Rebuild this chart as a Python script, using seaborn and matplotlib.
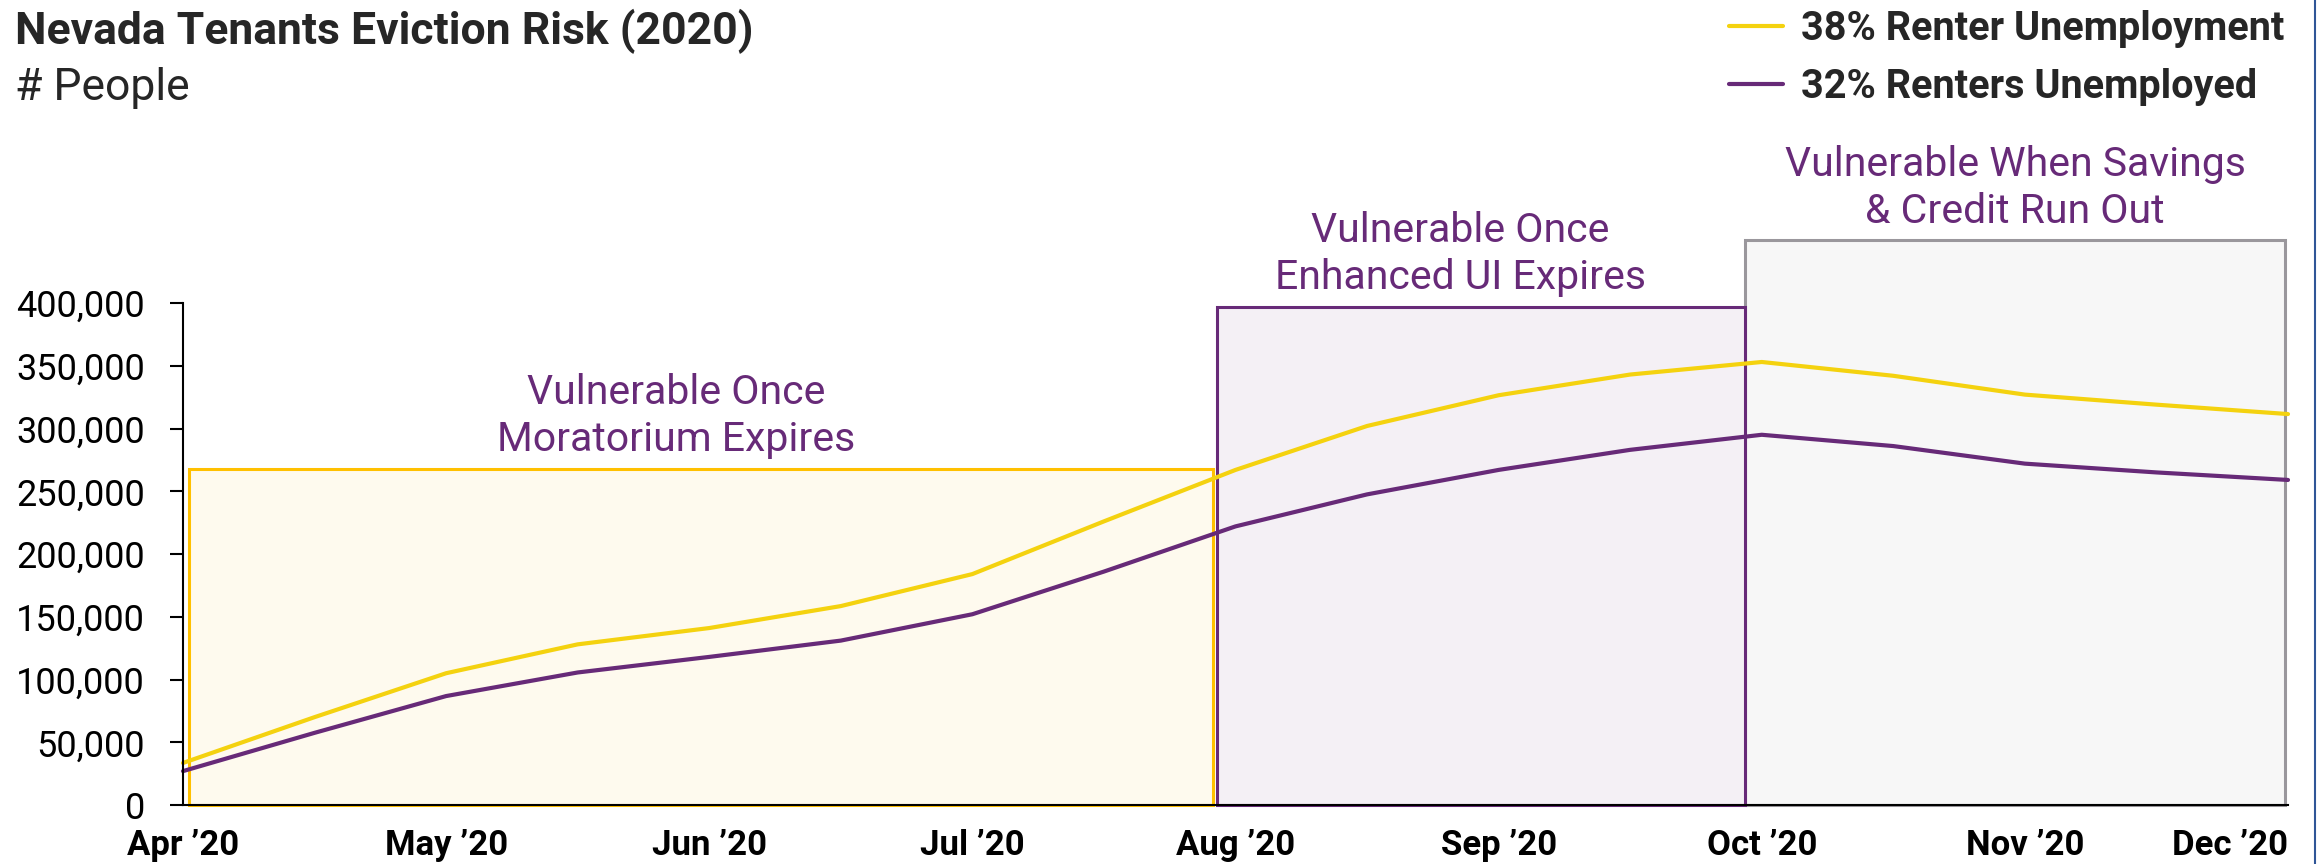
import numpy as np
import pandas as pd
import seaborn as sns
import matplotlib.pyplot as plt
from matplotlib.patches import Rectangle
from matplotlib.lines import Line2D

# =========================
# DATA (half-month steps from Apr '20)
# =========================
months = ["Apr \u201920", "May \u201920", "Jun \u201920", "Jul \u201920", "Aug \u201920",
          "Sep \u201920", "Oct \u201920", "Nov \u201920", "Dec \u201920"]
t_months = [0, 0.5, 1, 1.5, 2, 2.5, 3, 3.5, 4, 4.5, 5, 5.5, 6, 6.5, 7, 7.5, 8]
renter_38 = [33500, 70000, 105000, 128000, 141000, 158500, 184000, 226000, 267000,
             302000, 326500, 343000, 353000, 342000, 327000, 319000, 311500]
renter_32 = [27000, 57500, 86800, 105600, 118000, 131000, 152000, 186000, 222000,
             247500, 267000, 283000, 295000, 286000, 272000, 265000, 259000]
series_names = ["38% Renter Unemployment", "32% Renters Unemployed"]

period_labels = ["Vulnerable Once\nMoratorium Expires",
                 "Vulnerable Once\nEnhanced UI Expires",
                 "Vulnerable When Savings\n& Credit Run Out"]
period_start = [0.023, 3.928, 5.937]
period_end = [3.913, 5.937, 7.99]
period_top = [268000, 397000, 450000]

yticks = [0, 50000, 100000, 150000, 200000, 250000, 300000, 350000, 400000]

df = pd.DataFrame({
    "t": t_months * 2,
    "people": renter_38 + renter_32,
    "series": [series_names[0]] * len(t_months) + [series_names[1]] * len(t_months),
})

# =========================
# STYLE
# =========================
YELLOW = "#F4D20F"
PURPLE = "#672A78"
box_edge = ["#FFC000", PURPLE, "#9A979C"]
box_fill = ["#FEFAEE", "#F4F0F5", "#F7F7F7"]
label_x = [1.874, 4.854, 6.963]   # text centres (months from Apr)

sns.set_theme(style="white")
plt.rcParams["font.family"] = ["Roboto", "DejaVu Sans"]

W, H = 2323, 864
fig = plt.figure(figsize=(W / 100, H / 100), dpi=100)
ax = fig.add_axes([183 / W, 59 / H, (2288 - 183) / W, 502 / H])

# period boxes (gray first so the purple edge sits on top)
for i in [0, 2, 1]:
    ax.add_patch(Rectangle((period_start[i], 0), period_end[i] - period_start[i], period_top[i],
                           facecolor=box_fill[i], edgecolor=box_edge[i], lw=2.2,
                           clip_on=False, zorder=1))
    ax.annotate(period_labels[i], xy=(label_x[i], period_top[i]), xytext=(0, 7),
                textcoords="offset points", ha="center", va="bottom",
                fontsize=29.5, color=PURPLE, linespacing=1.25, annotation_clip=False)

sns.lineplot(data=df, x="t", y="people", hue="series",
             palette={series_names[0]: YELLOW, series_names[1]: PURPLE},
             lw=3, ax=ax, legend=False, zorder=3)
for ln in ax.lines:
    ln.set_clip_on(False)
    ln.set_solid_joinstyle("round")

ax.set_xlim(0, 8)
ax.set_ylim(0, 400000)
ax.set_xticks(range(len(months)))
ax.set_xticklabels(months, fontsize=25, fontweight="bold")
ax.get_xticklabels()[-1].set_horizontalalignment("right")
ax.set_yticks(yticks)
ax.set_yticklabels([f"{v:,}" for v in yticks], fontsize=26)
ax.set_xlabel("")
ax.set_ylabel("")
ax.tick_params(axis="x", length=0, pad=17, colors="black")
ax.tick_params(axis="y", direction="out", length=9.5, width=1.5, pad=18, colors="black", left=True)
for s in ["top", "right"]:
    ax.spines[s].set_visible(False)
for s in ["left", "bottom"]:
    ax.spines[s].set_color("black")
    ax.spines[s].set_linewidth(1.5)
    ax.spines[s].set_zorder(4)
ax.set_facecolor("none")

# titles
fig.text(15 / W, 1 - 44 / H, "Nevada Tenants Eviction Risk (2020)", fontsize=32,
         fontweight="bold", va="baseline", ha="left")
fig.text(15 / W, 1 - 100 / H, "# People", fontsize=32, va="baseline", ha="left")

# legend
handles = [Line2D([], [], color=YELLOW, lw=3), Line2D([], [], color=PURPLE, lw=3)]
fig.legend(handles, series_names, loc="upper right", bbox_to_anchor=(2288 / W, 1 - 6 / H),
           frameon=False, prop={"size": 28.5, "weight": "bold"}, handlelength=1.35,
           handletextpad=0.45, labelspacing=0.5, borderaxespad=0, borderpad=0.1)

# slide border on the right edge
fig.add_artist(Line2D([2315 / W, 2315 / W], [0, 1], color="#2F5597", lw=1.5,
                      transform=fig.transFigure))

fig.savefig("out.png", dpi=100)
